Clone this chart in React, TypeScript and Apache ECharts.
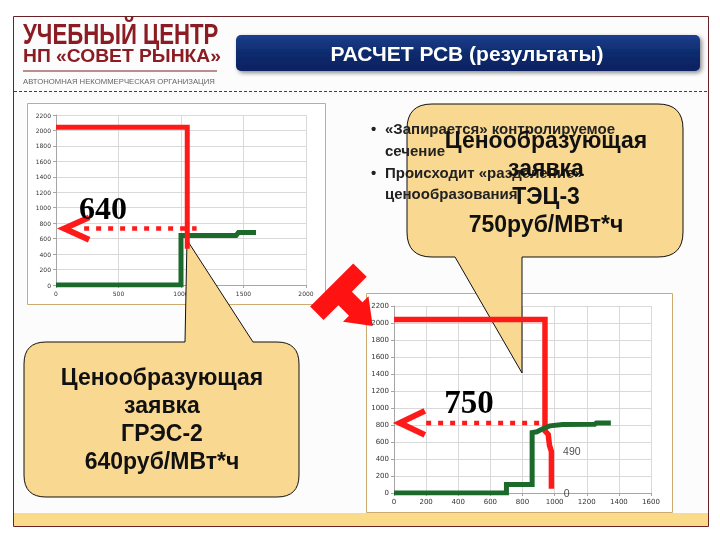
import React, { useEffect, useRef } from "react";
import * as echarts from "echarts";

// ---------- data ----------
const chart1XTicks = [0, 500, 1000, 1500, 2000];
const chart1YTicks = [0, 200, 400, 600, 800, 1000, 1200, 1400, 1600, 1800, 2000, 2200];
const chart2XTicks = [0, 200, 400, 600, 800, 1000, 1200, 1400, 1600];
const chart2YTicks = [0, 200, 400, 600, 800, 1000, 1200, 1400, 1600, 1800, 2000, 2200];

const chart1Demand = [[0, 2040], [1050, 2040], [1050, 470]];
const chart1Supply = [[0, 0], [1000, 0], [1000, 640], [1440, 640], [1460, 680], [1600, 680]];
const chart1PriceLine = [[225, 730], [1125, 730]];
const chart1ArrowHead = [[265, 875], [66, 730], [265, 585]];
const chart1PriceLabel = "640";

const chart2Demand = [[0, 2040], [940, 2040], [940, 730], [960, 690], [968, 560], [980, 490], [980, 50]];
const chart2Supply = [[0, 0], [700, 0], [700, 100], [860, 100], [860, 710], [890, 720], [930, 760], [970, 790], [1050, 805], [1250, 810], [1260, 825], [1350, 825]];
const chart2PriceLine = [[200, 825], [910, 825]];
const chart2ArrowHead = [[192, 966], [36, 825], [192, 684]];
const chart2PriceLabel = "750";
const chart2ValueMarks = [[1040, 490], [1045, 0]];

const headerTitle = "РАСЧЕТ РСВ (результаты)";
const logoLines = ["УЧЕБНЫЙ ЦЕНТР", "НП «СОВЕТ РЫНКА»", "АВТОНОМНАЯ НЕКОММЕРЧЕСКАЯ ОРГАНИЗАЦИЯ"];
const bullets = [["«Запирается» контролируемое", "сечение"], ["Происходит «разделение»", "ценообразования"]];
const balloon1Lines = ["Ценообразующая", "заявка", "ГРЭС-2", "640руб/МВт*ч"];
const balloon2Lines = ["Ценообразующая", "заявка", "ТЭЦ-3", "750руб/МВт*ч"];

// ---------- shapes ----------
const balloon1Path =
  "M46,342 L185,342 L187,240 L253,342 L277,342 Q299,342 299,364 L299,475 Q299,497 277,497 L46,497 Q24,497 24,475 L24,364 Q24,342 46,342 Z";
const balloon2Path =
  "M432,104 L658,104 Q683,104 683,129 L683,232 Q683,257 658,257 L522,257 L522,373 L455,257 L432,257 Q407,257 407,232 L407,129 Q407,104 432,104 Z";

echarts.graphic.registerShape("balloonA", echarts.graphic.extendPath(balloon1Path, {}));
echarts.graphic.registerShape("balloonB", echarts.graphic.extendPath(balloon2Path, {}));

const SANS = '"Liberation Sans", Arial, sans-serif';
const SERIF = '"Liberation Serif", "Times New Roman", serif';
const SMALL = '"DejaVu Sans", Verdana, sans-serif';

function txt(x: number, y: number, text: string, font: string, fill: string, align = "left", extra: any = {}) {
  return {
    type: "text",
    x,
    y,
    z: 10,
    silent: true,
    ...extra,
    style: {
      text,
      x: 0,
      y: 0,
      font,
      fill,
      align,
      textAlign: align,
      verticalAlign: "middle",
      textVerticalAlign: "middle",
    },
  };
}

function bigArrow() {
  const O = [331.7, 285];
  const k = Math.SQRT1_2;
  const local = [
    [0, 30.5], [19, 30.5], [19, 9.5], [34, 9.5], [34, 18], [58, 0],
    [34, -18], [34, -9.5], [19, -9.5], [19, -30.5], [0, -30.5],
  ];
  const pts = local.map(([u, v]) => [O[0] + u * k + v * k, O[1] + u * k - v * k]);
  return { type: "polygon", z: 10, silent: true, shape: { points: pts }, style: { fill: "#FF1212" } };
}

function axis(ticks: number[], gridIndex: number, fontSize: number) {
  return {
    type: "value",
    gridIndex,
    min: ticks[0],
    max: ticks[ticks.length - 1],
    interval: ticks[1] - ticks[0],
    axisLine: { show: true, lineStyle: { color: "#A6A6A6", width: 1 } },
    axisTick: { show: true, length: 3, lineStyle: { color: "#A6A6A6" } },
    splitLine: { show: true, lineStyle: { color: "#D9D9D9", width: 1 } },
    axisLabel: { fontSize, color: "#333", fontFamily: SMALL, margin: 5, formatter: (v: number) => String(v) },
  };
}

function line(data: number[][], color: string, width: number, idx: number, z: number, type: any = "solid") {
  return {
    type: "line",
    data,
    xAxisIndex: idx,
    yAxisIndex: idx,
    symbol: "none",
    silent: true,
    z,
    lineStyle: { color, width, type, cap: "butt", join: "miter" },
  };
}

export default function App() {
  const ref = useRef<HTMLDivElement>(null);
  useEffect(() => {
    if (!ref.current) return;
    const chart = echarts.init(ref.current, null, { renderer: "svg" });
    const RED = "#FF1A1A";
    const GREEN = "#1B6A2B";
    const graphic: any[] = [
      // slide
      { type: "rect", z: -10, silent: true, shape: { x: 13.5, y: 16.5, width: 695, height: 510 }, style: { fill: "#FCFCFC", stroke: "#6B2226", lineWidth: 1 } },
      { type: "rect", z: -9, silent: true, shape: { x: 14, y: 513, width: 694, height: 13 }, style: { fill: "#F9DB8A" } },
      { type: "line", z: -9, silent: true, shape: { x1: 14, y1: 91.5, x2: 708, y2: 91.5 }, style: { stroke: "#7A2A2A", lineWidth: 1, lineDash: [3, 2] } },
      // logo
      txt(23, 34, logoLines[0], `bold 30px ${SANS}`, "#8B1C24", "left", { scaleX: 0.74 }),
      txt(23, 56, logoLines[1], `bold 18px ${SANS}`, "#8B1C24", "left", { scaleX: 1.07 }),
      { type: "line", z: -8, silent: true, shape: { x1: 23, y1: 71, x2: 217, y2: 71 }, style: { stroke: "#7A1E22", lineWidth: 1.2 } },
      txt(23, 81.5, logoLines[2], `7.5px ${SANS}`, "#666", "left", { scaleX: 1.03 }),
      // title box
      {
        type: "rect", z: -8, silent: true,
        shape: { x: 236, y: 35, width: 464, height: 36, r: 5 },
        style: {
          fill: new echarts.graphic.LinearGradient(0, 0, 0, 1, [
            { offset: 0, color: "#1D3F8E" },
            { offset: 0.5, color: "#0E2B6E" },
            { offset: 1, color: "#0A2160" },
          ]),
          shadowBlur: 4, shadowColor: "rgba(0,0,0,0.45)", shadowOffsetX: 2, shadowOffsetY: 2,
        },
      },
      txt(467, 53.5, headerTitle, `bold 21px ${SANS}`, "#FFFFFF", "center"),
      // chart frames
      { type: "rect", z: -5, silent: true, shape: { x: 27.5, y: 103.5, width: 298, height: 201 }, style: { fill: "#FFFFFF", stroke: "#CDAA70", lineWidth: 1 } },
      { type: "rect", z: -5, silent: true, shape: { x: 366.5, y: 293.5, width: 306, height: 219 }, style: { fill: "#FFFFFF", stroke: "#CDAA70", lineWidth: 1 } },
      // balloons
      { type: "balloonA", x: 0, y: 0, scaleX: 1, scaleY: 1, z: 1, silent: true, style: { fill: "#F9D892", stroke: "#111", lineWidth: 1 } },
      { type: "balloonB", x: 0, y: 0, scaleX: 1, scaleY: 1, z: 1, silent: true, style: { fill: "#F9D892", stroke: "#111", lineWidth: 1 } },
      // bullets
      txt(371, 128, "•", `bold 15px ${SANS}`, "#222"),
      txt(385, 128, bullets[0][0], `bold 15px ${SANS}`, "#222"),
      txt(385, 150, bullets[0][1], `bold 15px ${SANS}`, "#222"),
      txt(371, 172, "•", `bold 15px ${SANS}`, "#222"),
      txt(385, 172, bullets[1][0], `bold 15px ${SANS}`, "#222"),
      txt(385, 193, bullets[1][1], `bold 15px ${SANS}`, "#222"),
      // balloon texts
      ...balloon1Lines.map((s, i) => txt(162, 377 + i * 28, s, `bold 23px ${SANS}`, "#111", "center")),
      ...balloon2Lines.map((s, i) => txt(546, 140 + i * 28, s, `bold 23px ${SANS}`, "#111", "center")),
      // price labels
      txt(103, 208, chart1PriceLabel, `bold 32px ${SERIF}`, "#000", "center"),
      txt(469, 402, chart2PriceLabel, `bold 33px ${SERIF}`, "#000", "center"),
      bigArrow(),
    ];

    chart.setOption({
      animation: false,
      backgroundColor: "transparent",
      grid: [
        { left: 56, top: 115, width: 250, height: 170 },
        { left: 394, top: 306, width: 257, height: 187 },
      ],
      xAxis: [axis(chart1XTicks, 0, 6), axis(chart2XTicks, 1, 7)],
      yAxis: [axis(chart1YTicks, 0, 6), axis(chart2YTicks, 1, 7)],
      graphic,
      series: [
        line(chart1Supply, GREEN, 5, 0, 2),
        line(chart1Demand, RED, 5, 0, 3),
        line(chart1PriceLine, RED, 4.5, 0, 3, [5, 7]),
        line(chart1ArrowHead, RED, 6, 0, 3),
        line(chart2Supply, GREEN, 5, 1, 3),
        line(chart2Demand, RED, 5.5, 1, 2),
        line(chart2PriceLine, RED, 4.5, 1, 3, [5, 7]),
        line(chart2ArrowHead, RED, 6, 1, 3),
        {
          type: "scatter",
          xAxisIndex: 1,
          yAxisIndex: 1,
          data: chart2ValueMarks,
          symbolSize: 0,
          silent: true,
          z: 4,
          label: {
            show: true,
            position: "right",
            distance: 2,
            formatter: (p: any) => String(p.value[1]),
            fontSize: 10.5,
            fontFamily: SANS,
            color: "#222",
          },
        },
      ],
    });
    return () => chart.dispose();
  }, []);
  return <div ref={ref} style={{ position: "fixed", left: 0, top: 0, width: 720, height: 540 }} />;
}
